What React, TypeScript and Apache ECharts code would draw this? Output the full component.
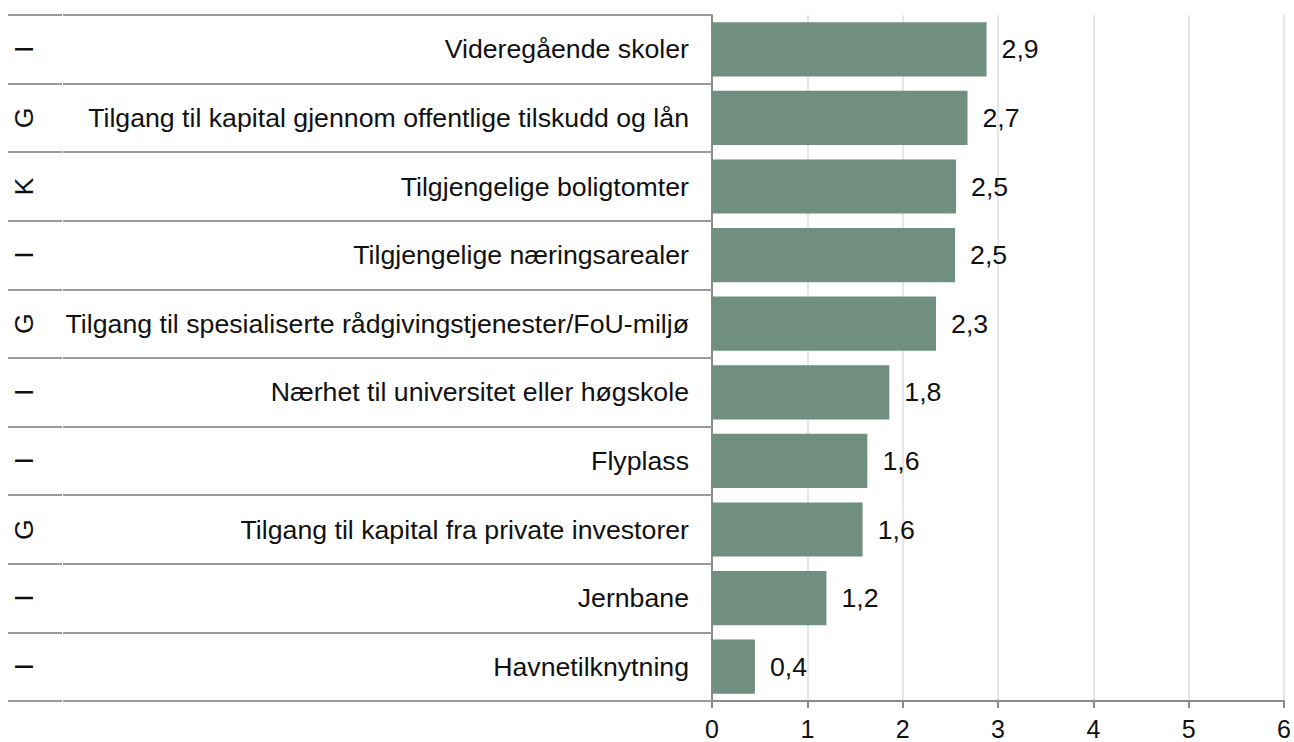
import React, { useEffect, useRef } from "react";
import * as echarts from "echarts";

const categories = [
  "Videregående skoler",
  "Tilgang til kapital gjennom offentlige tilskudd og lån",
  "Tilgjengelige boligtomter",
  "Tilgjengelige næringsarealer",
  "Tilgang til spesialiserte rådgivingstjenester/FoU-miljø",
  "Nærhet til universitet eller høgskole",
  "Flyplass",
  "Tilgang til kapital fra private investorer",
  "Jernbane",
  "Havnetilknytning",
];
const groups = ["I", "G", "K", "I", "G", "I", "I", "G", "I", "I"];
const values = [2.88, 2.68, 2.56, 2.55, 2.35, 1.86, 1.63, 1.58, 1.2, 0.45];
const valueLabels = ["2,9", "2,7", "2,5", "2,5", "2,3", "1,8", "1,6", "1,6", "1,2", "0,4"];
const xTicks = ["0", "1", "2", "3", "4", "5", "6"];

const FONT = "'Liberation Sans', Arial, Helvetica, sans-serif";
const FS = 26.7;

export default function App() {
  const ref = useRef<HTMLDivElement>(null);
  useEffect(() => {
    if (!ref.current) return;
    const chart = echarts.init(ref.current, undefined, { renderer: "svg" });
    chart.setOption({
      animation: false,
      backgroundColor: "#ffffff",
      grid: {
        left: 712,
        right: 10,
        top: 15,
        bottom: 41,
        containLabel: false,
        outerBoundsMode: "none",
      },
      xAxis: {
        type: "value",
        min: 0,
        max: 6,
        interval: 1,
        axisLine: { show: true, lineStyle: { color: "#8c8c8c", width: 2 } },
        axisTick: { show: true, length: 7, lineStyle: { color: "#8c8c8c", width: 2 } },
        axisLabel: {
          color: "#111",
          fontSize: 25,
          fontFamily: FONT,
          margin: 15,
          formatter: (v: number) => xTicks[Math.round(v)] ?? String(v),
        },
        splitLine: { show: true, lineStyle: { color: "#e3e7e7", width: 2 } },
      },
      yAxis: [
        {
          type: "category",
          data: categories,
          inverse: true,
          axisLine: { show: true, lineStyle: { color: "#8c8c8c", width: 2 } },
          axisTick: { show: true, length: 649, lineStyle: { color: "#9a9a9a", width: 2 } },
          axisLabel: { color: "#111", fontSize: FS, fontFamily: FONT, margin: 23 },
          splitLine: { show: false },
        },
        {
          type: "category",
          data: groups,
          inverse: true,
          position: "left",
          offset: 650,
          axisLine: { show: false },
          axisTick: { show: true, length: 54, lineStyle: { color: "#9a9a9a", width: 2 } },
          axisLabel: { color: "#111", fontSize: FS, fontFamily: FONT, margin: 25, rotate: 90 },
          splitLine: { show: false },
        },
      ],
      series: [
        {
          type: "bar",
          data: values,
          yAxisIndex: 0,
          barCategoryGap: "21%",
          itemStyle: { color: "#718f80" },
          label: {
            show: true,
            position: "right",
            distance: 15,
            color: "#111",
            fontSize: FS,
            fontFamily: FONT,
            formatter: (p: any) => valueLabels[p.dataIndex],
          },
        },
      ],
    });
    return () => chart.dispose();
  }, []);
  return (
    <div
      ref={ref}
      style={{ position: "absolute", left: 0, top: 0, width: 1294, height: 742 }}
    />
  );
}
